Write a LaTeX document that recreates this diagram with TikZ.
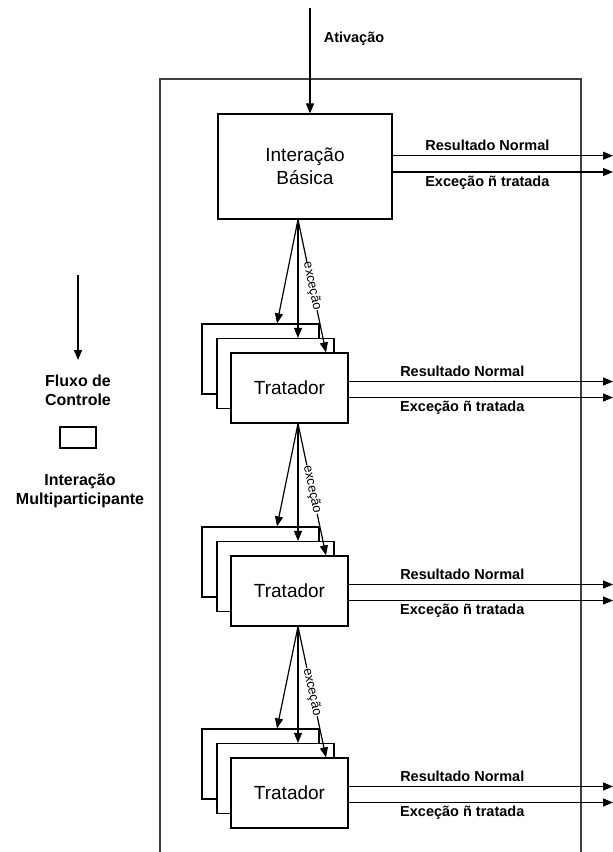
\documentclass[tikz,border=0pt]{standalone}
\usepackage{fontspec}
\setmainfont{Liberation Sans}
\usepackage{tikz}
\usetikzlibrary{arrows.meta}

\tikzset{
	caixa/.style={draw, fill=white, line width=1.2pt, inner sep=0pt, align=center, font=\fontsize{19}{23}\selectfont},
	seta/.style={line width=1.2pt, -{Triangle[length=10pt,width=8pt]}},
	rotulo/.style={font=\bfseries\fontsize{14.5}{17}\selectfont, align=center},
	legenda/.style={font=\bfseries\fontsize{16}{18.5}\selectfont, align=center},
	excecao/.style={sloped, fill=white, inner sep=0.5pt, font=\fontsize{13}{15}\selectfont},
}

\begin{document}
\begin{tikzpicture}[x=1pt, y=-1pt]
	\useasboundingbox (0,0) rectangle (613,852);
	\draw[line width=1.3pt, black!75] (160,852) -- (160,79) -- (581,79) -- (581,852);

	\coordinate (ini) at (310,8);
	\coordinate (x298) at (298,0);
	\node[caixa, minimum width=174pt, minimum height=105pt] (ib) at (305,166.5) {Interação\\Básica};
	\draw[seta] (ini) -- (ini |- ib.north);
	\node[rotulo] (ativ) at (354,39) {Ativação};

	\coordinate (rn0) at (613,155.7);
	\coordinate (en0) at (613,172);
	\draw[seta] (ib.east |- rn0) -- (rn0) node[rotulo, pos=0.43, yshift=10pt] {Resultado Normal};
	\draw[seta] (ib.east |- en0) -- (en0) node[rotulo, pos=0.43, yshift=-10.5pt] {Exceção ñ tratada};

	\foreach \i/\yt/\p in {1/353/ib, 2/556/tr1, 3/758/tr2} {
		\node[caixa, minimum width=117pt, minimum height=70pt] (tc\i) at (260.5,\yt+6) {};
		\node[caixa, minimum width=117pt, minimum height=70pt] (tm\i) at (275.5,\yt+20.5) {};
		\node[caixa, minimum width=117pt, minimum height=70pt] (tr\i) at (289.5,\yt+35) {Tratador};

		\coordinate (sai\i) at (x298 |- \p.south);
		\draw[seta] (sai\i) -- ([xshift=16.5pt]tc\i.north);
		\draw[seta] (sai\i) -- ([xshift=22.5pt]tm\i.north);
		\draw[seta] (sai\i) -- ([xshift=36.5pt]tr\i.north) node[excecao, midway] {exceção};

		\coordinate (rn\i) at (613,\yt+28.5);
		\coordinate (en\i) at (613,\yt+44.5);
		\draw[seta] (tr\i.east |- rn\i) -- (rn\i) node[rotulo, pos=0.43, yshift=10.5pt] {Resultado Normal};
		\draw[seta] (tr\i.east |- en\i) -- (en\i) node[rotulo, pos=0.43, yshift=-10.5pt] {Exceção ñ tratada};
	}

	\coordinate (lg1) at (78,275);
	\coordinate (lg2) at (78,360);
	\draw[seta] (lg1) -- (lg2);
	\node[legenda] (fluxo) at (78,390.5) {Fluxo de\\Controle};
	\node[draw, line width=1.2pt, minimum width=36pt, minimum height=21pt] (leg) at (78,437.5) {};
	\node[legenda] (multi) at (80,491) {Interação\\Multiparticipante};
\end{tikzpicture}
\end{document}
